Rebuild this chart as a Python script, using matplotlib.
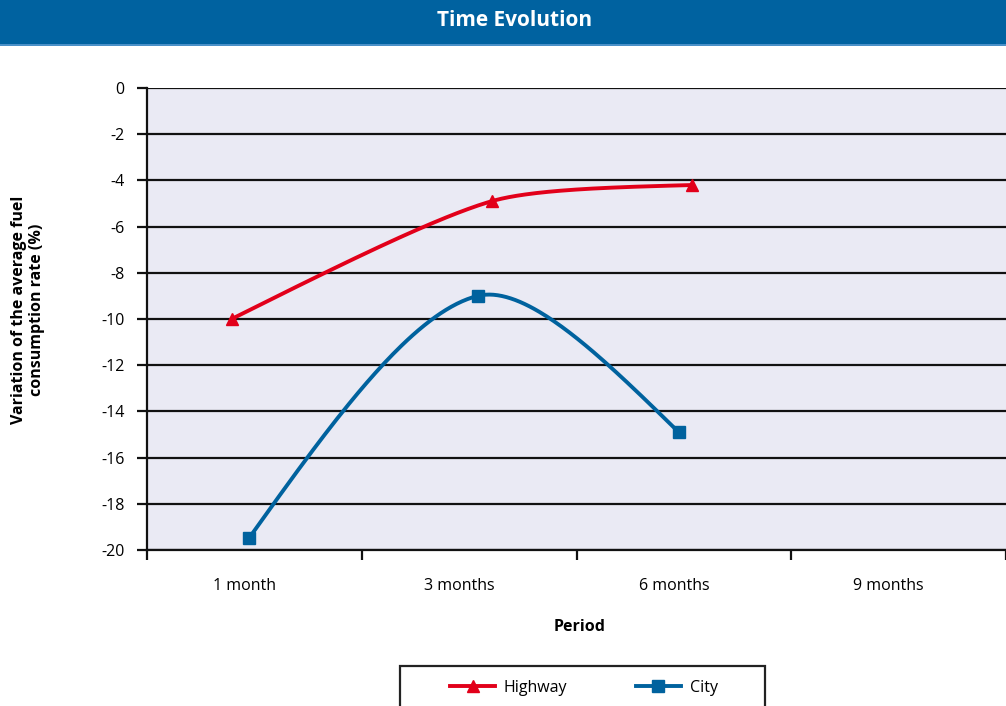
import numpy as np
import matplotlib
matplotlib.use("Agg")
import matplotlib.pyplot as plt
from matplotlib.patches import Rectangle
from matplotlib.lines import Line2D

plt.rcParams['font.family'] = ['Open Sans', 'DejaVu Sans']

# ---- data ----
periods = ["1 month", "3 months", "6 months", "9 months"]
highway_x = [-0.106, 1.105, 2.040]
highway_y = [-10.0, -4.9, -4.2]
city_x = [-0.026, 1.040, 1.976]
city_y = [-19.5, -9.0, -14.9]

title = "Time Evolution"
ylabel = "Variation of the average fuel\nconsumption rate (%)"
xlabel = "Period"

RED = "#E2001A"
BLUE = "#00629E"
BG = "#EAEAF4"
BAR = "#0062A0"

W, H = 1006, 706
fig = plt.figure(figsize=(W / 100, H / 100), dpi=100)

# title banner
fig.patches.append(Rectangle((0, 1 - 44 / H), 1, 44 / H, transform=fig.transFigure,
                             facecolor=BAR, edgecolor="none", zorder=0))
fig.patches.append(Rectangle((0, 1 - 46 / H), 1, 2 / H, transform=fig.transFigure,
                             facecolor="#4a90c8", edgecolor="none", zorder=0))
fig.text(515 / W, 1 - 20 / H, title, color="white", fontsize=15, fontweight="bold",
         ha="center", va="center")

left, right, top, bottom = 147, 1006, 88, 550
ax = fig.add_axes([left / W, 1 - bottom / H, (right - left) / W, (bottom - top) / H])
ax.set_facecolor(BG)

XW = 217.3  # pixels per category
YU = (bottom - top) / 20.0  # pixels per unit
ax.set_xlim(-0.5, -0.5 + (right - left) / XW)
ax.set_ylim(-20, 0)


def smooth(xs, ys, a=0.21, n=80):
    """Bezier smoothing through the points (screen-proportional space).

    Interior tangents follow the neighbour-to-neighbour direction; each arm
    scales with its own chord.  End segments use a natural (zero-curvature) end.
    """
    P = np.column_stack([np.asarray(xs) * XW, np.asarray(ys) * YU])
    m = len(P)
    arm_in = [None] * m
    arm_out = [None] * m
    for i in range(1, m - 1):
        d1 = np.linalg.norm(P[i] - P[i - 1])
        d2 = np.linalg.norm(P[i + 1] - P[i])
        T = P[i + 1] - P[i - 1]
        T = T / np.linalg.norm(T)
        arm_in[i] = P[i] - T * a * d1
        arm_out[i] = P[i] + T * a * d2
    if m > 2:
        arm_out[0] = (P[0] + arm_in[1]) / 2
        arm_in[m - 1] = (P[m - 1] + arm_out[m - 2]) / 2
    else:
        arm_out[0] = P[0] + (P[1] - P[0]) / 3
        arm_in[1] = P[1] - (P[1] - P[0]) / 3
    out = []
    t = np.linspace(0, 1, n)[:, None]
    for i in range(m - 1):
        p1, c1, c2, p2 = P[i], arm_out[i], arm_in[i + 1], P[i + 1]
        seg = ((1 - t) ** 3) * p1 + 3 * ((1 - t) ** 2) * t * c1 + 3 * (1 - t) * t ** 2 * c2 + t ** 3 * p2
        out.append(seg if i == 0 else seg[1:])
    pts = np.vstack(out)
    return pts[:, 0] / XW, pts[:, 1] / YU


hx, hy = smooth(highway_x, highway_y)
cx, cy = smooth(city_x, city_y)
ax.plot(hx, hy, color=RED, lw=2.8, solid_capstyle="round", zorder=3)
ax.plot(highway_x, highway_y, ls="none", marker="^", ms=9, color=RED, zorder=4)
ax.plot(cx, cy, color=BLUE, lw=2.8, solid_capstyle="round", zorder=3)
ax.plot(city_x, city_y, ls="none", marker="s", ms=8.5, color=BLUE, zorder=4)

# axes styling
for s in ("top", "right"):
    ax.spines[s].set_visible(False)
for s in ("left", "bottom"):
    ax.spines[s].set_linewidth(1.6)
    ax.spines[s].set_color("#111111")

ax.set_yticks(np.arange(-20, 1, 2))
ax.set_yticklabels([str(v) for v in range(-20, 1, 2)])
ax.yaxis.grid(True, color="#111111", lw=1.6)
ax.set_axisbelow(True)
ax.tick_params(axis="y", length=7, width=1.6, color="#111111", labelsize=11.5, pad=9)

ax.set_xticks(np.arange(-0.5, 4.0, 1.0))
ax.set_xticklabels([])
ax.tick_params(axis="x", which="major", length=7, width=1.6, color="#111111")
ax.set_xticks(np.arange(len(periods)) - 10 / XW, minor=True)
ax.set_xticklabels(periods, minor=True)
ax.tick_params(axis="x", which="minor", length=0, labelsize=11.5, pad=20)

fig.text(28 / W, 1 - 310 / H, ylabel, rotation=90, fontsize=11.5, fontweight="bold",
         ha="center", va="center", multialignment="center")
fig.text(580 / W, 1 - 627 / H, xlabel, fontsize=11.5, fontweight="bold",
         ha="center", va="center")

# legend box
fig.patches.append(Rectangle((400 / W, -0.05), 365 / W, 0.05 + (706 - 666) / H,
                             transform=fig.transFigure, facecolor="white",
                             edgecolor="#222222", lw=1.6, zorder=1))
handles = [Line2D([], [], color=RED, lw=2.8, marker="^", ms=9),
           Line2D([], [], color=BLUE, lw=2.8, marker="s", ms=8.5)]
fig.legend(handles, ["Highway", "City"], loc="center left",
           bbox_to_anchor=(436 / W, 1 - 688 / H), ncol=2, frameon=False,
           fontsize=11.5, handlelength=2.8, handletextpad=0.55, columnspacing=4.3)

fig.savefig("out.png", dpi=100)
